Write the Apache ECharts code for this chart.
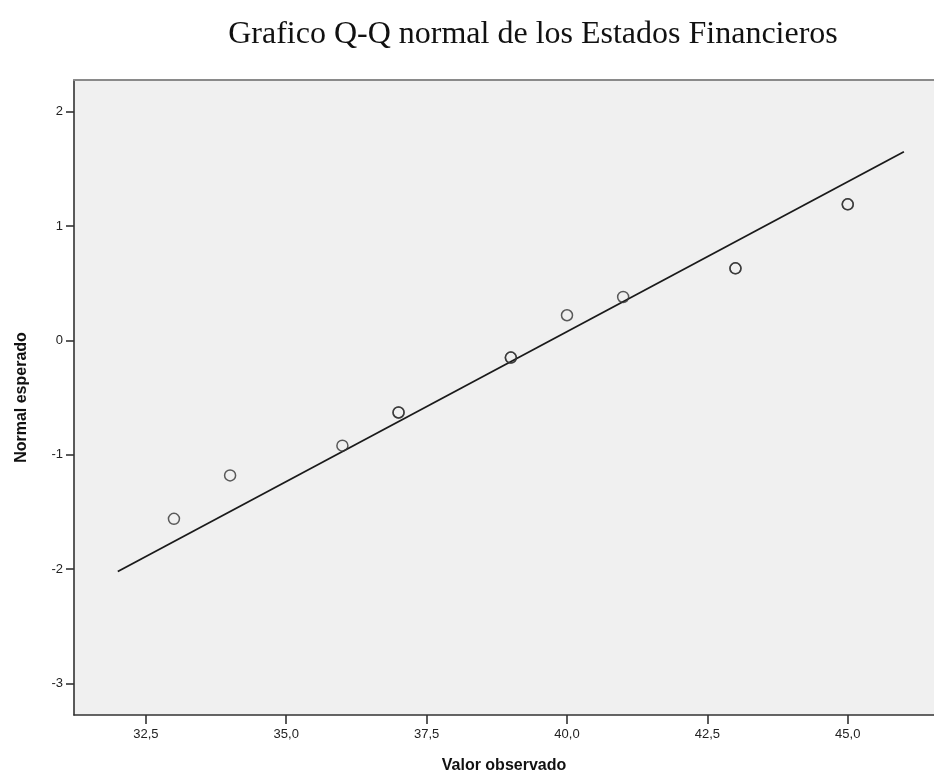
<!DOCTYPE html>
<html>
<head>
<meta charset="utf-8">
<script src="https://cdn.jsdelivr.net/npm/echarts@6/dist/echarts.min.js"></script>
<style>
  html, body { margin: 0; padding: 0; background: #ffffff; }
  #chart { width: 934px; height: 783px; }
</style>
</head>
<body>
<div id="chart"></div>
<script>
// Observed values (tied observations repeated) and their expected normal scores
const observedValues = [33, 34, 36, 37, 37, 39, 39, 40, 41, 43, 43, 45, 45];
const expectedNormal = [-1.56, -1.18, -0.92, -0.63, -0.63, -0.15, -0.15, 0.22, 0.38, 0.63, 0.63, 1.19, 1.19];

// Reference line endpoints
const refLineX = [32, 46];
const refLineY = [-2.02, 1.65];

// Axis tick values
const xTickValues = [32.5, 35, 37.5, 40, 42.5, 45];
const yTickValues = [-3, -2, -1, 0, 1, 2];

const chart = echarts.init(document.getElementById('chart'), null, { renderer: 'canvas' });

const pointData = observedValues.map((x, i) => [x, expectedNormal[i]]);
const lineData = refLineX.map((x, i) => [x, refLineY[i]]);

const axisText = { color: '#222222', fontFamily: 'Liberation Sans', fontSize: 13 };
const nameText = { fontFamily: 'Liberation Sans', fontWeight: 'bold', fontSize: 16, color: '#111111' };

const X_MIN = 31.22, X_MAX = 46.536;

chart.setOption({
  animation: false,
  backgroundColor: '#ffffff',
  title: {
    text: 'Grafico Q-Q normal de los Estados Financieros',
    left: 528,
    top: 14,
    textAlign: 'center',
    textStyle: { fontFamily: 'Liberation Serif', fontWeight: 'normal', fontSize: 32, color: '#111111' }
  },
  // plot area is open on the right, with a grey rule along its top
  grid: {
    left: 74, right: 0, top: 80, bottom: 68,
    show: true,
    backgroundColor: '#f0f0f0',
    borderWidth: 0
  },
  xAxis: [
    {
      type: 'value',
      min: X_MIN,
      max: X_MAX,
      name: 'Valor observado',
      nameLocation: 'middle',
      nameGap: 43,
      nameTextStyle: nameText,
      axisLine: { show: true, onZero: false, lineStyle: { color: '#333333', width: 1.6 } },
      axisTick: { show: true, length: 9, customValues: xTickValues, lineStyle: { color: '#333333', width: 1.6 } },
      axisLabel: Object.assign({
        customValues: xTickValues,
        margin: 13,
        formatter: v => v.toFixed(1).replace('.', ',')
      }, axisText),
      splitLine: { show: false }
    },
    {
      type: 'value',
      position: 'top',
      min: X_MIN,
      max: X_MAX,
      axisLine: { show: true, onZero: false, lineStyle: { color: '#8a8a8a', width: 2 } },
      axisTick: { show: false },
      axisLabel: { show: false },
      splitLine: { show: false }
    }
  ],
  yAxis: {
    type: 'value',
    min: -3.275,
    max: 2.277,
    name: 'Normal esperado',
    nameLocation: 'middle',
    nameGap: 44,
    nameRotate: 90,
    nameTextStyle: nameText,
    axisLine: { show: true, onZero: false, lineStyle: { color: '#333333', width: 1.6 } },
    axisTick: { show: true, length: 8, customValues: yTickValues, lineStyle: { color: '#333333', width: 1.6 } },
    axisLabel: Object.assign({
      customValues: yTickValues,
      margin: 11,
      formatter: v => String(v)
    }, axisText),
    splitLine: { show: false }
  },
  series: [
    {
      type: 'line',
      data: lineData,
      symbol: 'none',
      lineStyle: { color: '#1a1a1a', width: 1.8 },
      z: 2
    },
    {
      type: 'scatter',
      data: pointData,
      symbol: 'circle',
      symbolSize: 11,
      itemStyle: { color: 'rgba(0,0,0,0)', borderColor: '#333333', borderWidth: 1.5 },
      z: 3
    }
  ]
});
</script>
</body>
</html>
